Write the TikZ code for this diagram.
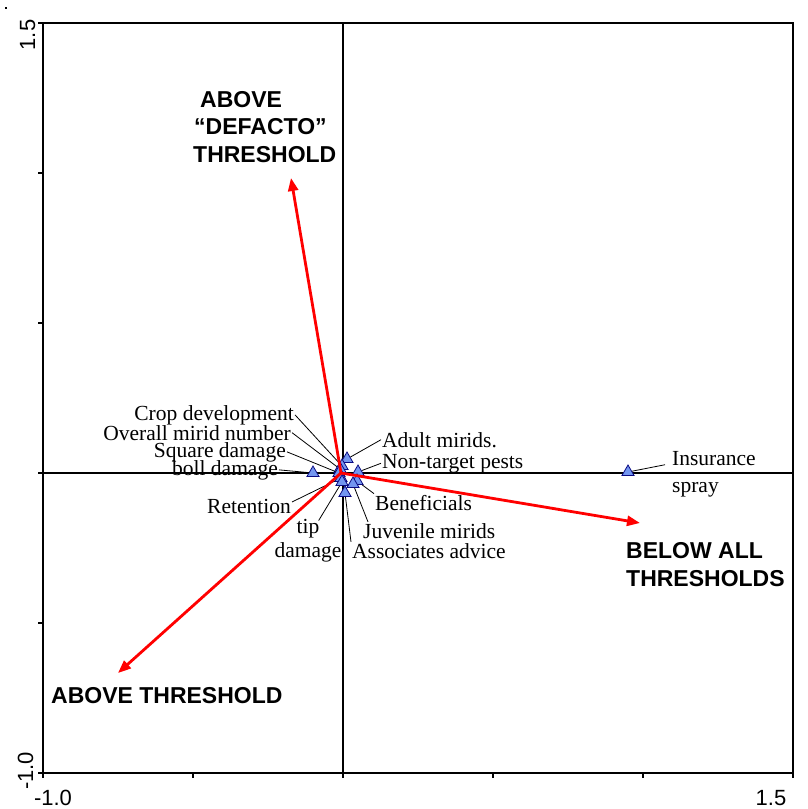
\documentclass[tikz,border=0pt]{standalone}
\usepackage{fontspec}
\setmainfont{Liberation Serif}
\newfontfamily\arialf{Liberation Sans}
\usetikzlibrary{arrows.meta,shapes.geometric}
\definecolor{ptfill}{RGB}{115,150,240}
\definecolor{ptdraw}{RGB}{10,10,130}
\begin{document}
\begin{tikzpicture}[x=1pt,y=-1pt,
  frame/.style={line width=1.8pt,draw=black},
  axisline/.style={line width=1.3pt,draw=black},
  pt/.style={regular polygon,regular polygon sides=3,minimum size=14pt,inner sep=0pt,fill=ptfill,draw=ptdraw,line width=0.8pt},
  lbl/.style={font=\fontsize{21.5}{24}\selectfont,inner sep=1pt},
  big/.style={font=\arialf\bfseries\fontsize{23}{27.5}\selectfont,inner sep=0pt,align=left},
  axlab/.style={font=\arialf\fontsize{22}{24}\selectfont,inner sep=0pt},
  leader/.style={draw=black,line width=0.8pt},
  vec/.style={draw=red,line width=2.8pt,-{Triangle[length=13pt,width=10pt]}}]
\useasboundingbox (0,0) rectangle (808,809);
% stray mark
\fill (5,7) rectangle (7,9);
% frame
\draw[frame] (43,23) rectangle (793,773);
% axes through origin
\draw[axisline] (38,473) -- (793,473);
\draw[axisline] (343,23) -- (343,778);
% ticks
\foreach \yy in {23,173,323,623,773} \draw[frame] (38,\yy) -- (43,\yy);
\foreach \xx in {43,193,493,643,793} \draw[frame] (\xx,773) -- (\xx,778);
% axis labels
\node[axlab,anchor=base] (xmin) at (53,805) {-1.0};
\node[axlab,anchor=base] (xmax) at (771,805) {1.5};
\node[axlab,anchor=base,rotate=90] (ymax) at (35,35) {1.5};
\node[axlab,anchor=base,rotate=90] (ymin) at (33,771) {-1.0};
% labels
\node[lbl,anchor=base east] (crop) at (295,420) {Crop development};
\node[lbl,anchor=base east] (overall) at (292,440) {Overall mirid number};
\node[lbl,anchor=base east] (square) at (287,457) {Square damage};
\node[lbl,anchor=base east] (boll) at (279,475) {boll damage};
\node[lbl,anchor=base east] (ret) at (292,513) {Retention};
\node[lbl,anchor=base,align=center] (tip) at (308,557) {tip\\damage};
\node[lbl,anchor=base west] (assoc) at (351,558) {Associates advice};
\node[lbl,anchor=base west] (juv) at (362,538) {Juvenile mirids};
\node[lbl,anchor=base west] (ben) at (374,510) {Beneficials};
\node[lbl,anchor=base west] (non) at (381,468) {Non-target pests};
\node[lbl,anchor=base west] (adult) at (381,447) {Adult mirids.};
\node[lbl,anchor=base west,align=left,font=\fontsize{21.5}{27}\selectfont] (ins) at (671,492) {Insurance\\spray};
% points
\node[pt] (p-boll) at (313,473) {};
\node[pt] (p-ins) at (628,472) {};
\node[pt] (p-adult) at (347,459) {};
\node[pt] (p-non) at (358,472) {};
\node[pt] (p-ben) at (357,481) {};
\node[pt] (p-juv) at (353,484) {};
\node[pt] (p-assoc) at (345,493) {};
\node[pt] (p-crop) at (342,466) {};
\node[pt] (p-overall) at (340,469) {};
\node[pt] (p-square) at (339,473) {};
\node[pt] (p-ret) at (341,478) {};
\node[pt] (p-tip) at (342,482) {};
% leaders
\draw[leader] (crop.east) -- (p-crop);
\draw[leader] (overall.east) -- (p-overall);
\draw[leader] (square.east) -- (p-square);
\draw[leader] (boll.east) -- (p-boll);
\draw[leader] ([yshift=4pt]ret.east) -- (p-ret);
\draw[leader] ([xshift=-24pt,yshift=-3pt]tip.north east) -- (p-tip);
\draw[leader] (assoc.north west) -- (p-assoc);
\draw[leader] ([xshift=6pt]juv.north west) -- (p-juv);
\draw[leader] (ben.north west) -- (p-ben);
\draw[leader] (non.west) -- (p-non);
\draw[leader] (adult.west) -- (p-adult);
\draw[leader] ([xshift=-6pt,yshift=-15pt]ins.north west) -- (p-ins);
% vectors
\coordinate (o) at (341,473);
\coordinate (vup) at (291,178);
\coordinate (vdl) at (118,673);
\coordinate (vr) at (640,523);
\draw[vec] (o) -- (vup);
\draw[vec] (o) -- (vdl);
\draw[vec] (o) -- (vr);
% big labels
\node[big,anchor=base west] (defacto) at (193,162) {\hspace*{7pt}ABOVE\\\hspace*{1pt}“DEFACTO”\\THRESHOLD};
\node[big,anchor=base west] (below) at (626,586) {BELOW ALL\\THRESHOLDS};
\node[big,anchor=base west] (above) at (51,703) {ABOVE THRESHOLD};
\end{tikzpicture}
\end{document}
